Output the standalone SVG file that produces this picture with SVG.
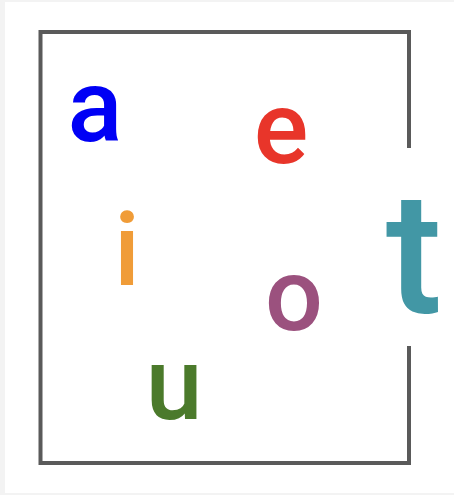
<svg xmlns="http://www.w3.org/2000/svg" width="454" height="495" viewBox="0 0 454 495">
<style>
.lt{font-family:Roboto,"Liberation Sans",Arial,sans-serif;font-weight:500;font-size:102px;text-anchor:middle}
.frame{fill:none;stroke:#5a5a5a;stroke-width:4;stroke-linecap:square}
</style>
<rect x="0" y="0" width="454" height="495" fill="#f3f3f3"/>
<rect x="5" y="2" width="449" height="491" fill="#ffffff"/>
<g id="frame">
<path class="frame" d="M409,146 V32 H40.5 V463 H409 V348"/>
</g>
<g id="a"><text class="lt" x="95" y="141" fill="#0000f5">a</text></g>
<g id="e"><text class="lt" x="281" y="163" fill="#e8352a">e</text></g>
<g id="i"><text class="lt" x="127" y="285" fill="#f09c38">i</text></g>
<g id="o"><text class="lt" x="294" y="330" fill="#9b517e">o</text></g>
<g id="u"><text class="lt" x="174" y="419" fill="#4b7a2b">u</text></g>
<g id="t"><text class="lt" x="414" y="312" fill="#4297a5" style="font-size:170px">t</text></g>
</svg>
